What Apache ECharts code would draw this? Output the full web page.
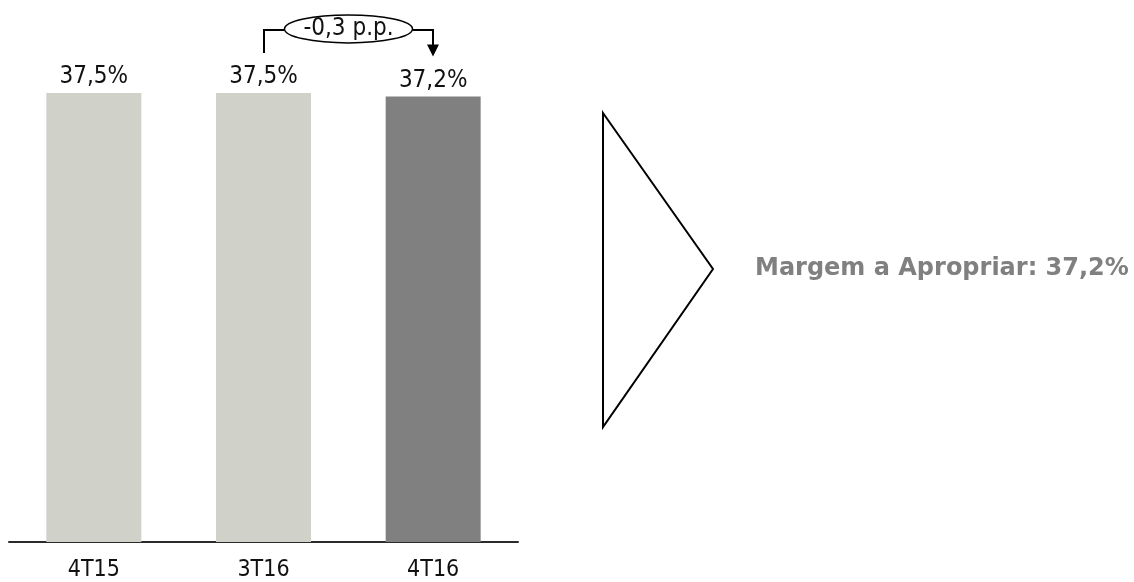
<!DOCTYPE html>
<html>
<head>
<meta charset="utf-8">
<script src="https://cdn.jsdelivr.net/npm/echarts@6/dist/echarts.min.js"></script>
<style>
  html, body { margin: 0; padding: 0; background: #fff; }
  #chart { width: 1134px; height: 582px; }
</style>
</head>
<body>
<div id="chart"></div>
<script>
// Margem REF por trimestre (%)
const categories = ['4T15', '3T16', '4T16'];
const margins = [37.5, 37.5, 37.2];
const barColors = ['#D0D1C9', '#D0D1C9', '#808080'];
const deltaLabel = '-0,3 p.p.';
const sideLabel = 'Margem a Apropriar: 37,2%';

const fmt = v => v.toFixed(1).replace('.', ',') + '%';

const chart = echarts.init(document.getElementById('chart'), null, { renderer: 'canvas' });

chart.setOption({
  animation: false,
  backgroundColor: '#ffffff',
  grid: { left: 9, right: 616, top: 63, bottom: 37, containLabel: false },
  xAxis: {
    type: 'category',
    data: categories,
    axisLine: { show: true, lineStyle: { color: '#2b2b2b', width: 2 } },
    axisTick: { show: false },
    axisLabel: {
      margin: 17,
      color: '#111111',
      fontFamily: 'DejaVu Sans Condensed',
      fontSize: 23
    }
  },
  yAxis: {
    type: 'value',
    min: 0,
    max: 40,
    show: false,
    splitLine: { show: false }
  },
  series: [{
    type: 'bar',
    barWidth: 95,
    data: margins.map((v, i) => ({ value: v, itemStyle: { color: barColors[i] } })),
    label: {
      show: true,
      position: 'top',
      distance: 4,
      color: '#111111',
      fontFamily: 'DejaVu Sans Condensed',
      fontSize: 24,
      formatter: p => fmt(p.value)
    }
  }]
});

// Variation bracket between 3T16 and 4T16, anchored to the bar positions
const from = chart.convertToPixel({ seriesIndex: 0 }, [1, margins[1]]);
const to = chart.convertToPixel({ seriesIndex: 0 }, [2, margins[2]]);
const x1 = Math.round(from[0]);
const x2 = Math.round(to[0]);
const yLine = from[1] - 63;
const yStart = from[1] - 40;
const yTip = to[1] - 40;
const cx = (x1 + x2) / 2;
const cy = yLine - 1;

chart.setOption({
  graphic: [
    {
      type: 'polyline',
      shape: { points: [[x1, yStart], [x1, yLine], [cx - 64, yLine]] },
      style: { stroke: '#000', lineWidth: 2, fill: null }
    },
    {
      type: 'polyline',
      shape: { points: [[cx + 64, yLine], [x2, yLine], [x2, yTip - 11]] },
      style: { stroke: '#000', lineWidth: 2, fill: null }
    },
    {
      type: 'polygon',
      shape: { points: [[x2 - 6, yTip - 12], [x2 + 6, yTip - 12], [x2, yTip]] },
      style: { fill: '#000' }
    },
    {
      type: 'ellipse',
      shape: { cx: cx, cy: cy, rx: 64, ry: 14 },
      style: { fill: '#fff', stroke: '#000', lineWidth: 1.5 }
    },
    {
      type: 'text',
      x: cx,
      y: cy,
      style: {
        text: deltaLabel,
        fill: '#111',
        font: '24px "DejaVu Sans Condensed"',
        align: 'center',
        verticalAlign: 'middle'
      }
    },
    // Pointer shape leading to the summary text
    {
      type: 'polygon',
      shape: { points: [[603, 113], [713, 269], [603, 427]] },
      style: { fill: '#fff', stroke: '#000', lineWidth: 2 }
    },
    {
      type: 'text',
      x: 755,
      y: 269,
      style: {
        text: sideLabel,
        fill: '#808080',
        font: 'bold 24px "DejaVu Sans"',
        align: 'left',
        verticalAlign: 'middle'
      }
    }
  ]
});
</script>
</body>
</html>
